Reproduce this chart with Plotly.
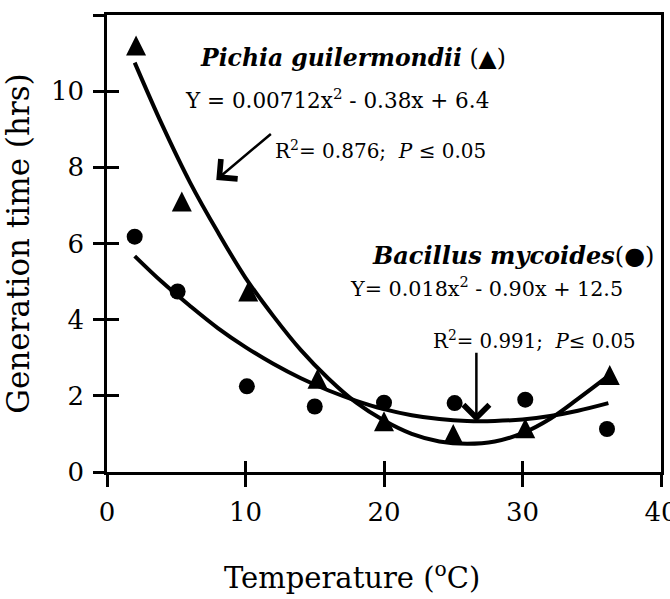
import plotly.graph_objects as go

pichia_x = [2.1, 5.4, 10.2, 15.2, 20.0, 25.0, 30.2, 36.3]
pichia_y = [11.2, 7.1, 4.74, 2.45, 1.33, 1.0, 1.15, 2.55]
bacillus_x = [2.0, 5.1, 10.1, 15.0, 20.0, 25.1, 30.2, 36.1]
bacillus_y = [6.18, 4.74, 2.25, 1.72, 1.82, 1.81, 1.90, 1.13]

# Fitted curves
steep_x = [2, 4, 6, 8, 10, 12, 14, 16, 18, 20, 22, 24, 26, 28, 30, 32, 34, 36.3]
steep_y = [10.75, 9.1, 7.6, 6.3, 5.1, 4.1, 3.2, 2.45, 1.82, 1.35, 1.0, 0.8, 0.74, 0.8, 1.02, 1.4, 1.92, 2.55]
flat_x = [2, 4, 6, 8, 10, 12, 14, 16, 18, 20, 22, 24, 26, 28, 30, 32, 34, 36.2]
flat_y = [5.67, 4.98, 4.36, 3.78, 3.28, 2.84, 2.46, 2.14, 1.87, 1.65, 1.49, 1.39, 1.34, 1.34, 1.38, 1.47, 1.61, 1.81]

x_ticks = [0, 10, 20, 30, 40]
y_ticks = [0, 2, 4, 6, 8, 10, 12]
y_ticktext = ["0", "2", "4", "6", "8", "10", ""]

FONT = "DejaVu Serif"

fig = go.Figure()
fig.add_trace(go.Scatter(x=steep_x, y=steep_y, mode="lines", line=dict(color="black", width=4, shape="spline"),
                         showlegend=False, hoverinfo="skip"))
fig.add_trace(go.Scatter(x=flat_x, y=flat_y, mode="lines", line=dict(color="black", width=4, shape="spline"),
                         showlegend=False, hoverinfo="skip"))
fig.add_trace(go.Scatter(x=pichia_x, y=pichia_y, mode="markers", name="Pichia guilermondii",
                         marker=dict(symbol="arrow-down", angle=180, standoff=10, size=20, color="black"),
                         showlegend=False))
# circles drawn on the overlay axes (same ranges) so that the inside ticks are rendered
fig.add_trace(go.Scatter(x=bacillus_x, y=bacillus_y, mode="markers", name="Bacillus mycoides",
                         xaxis="x2", yaxis="y2",
                         marker=dict(symbol="circle", size=16, color="black"), showlegend=False))

tickfont = dict(family=FONT, size=26, color="black")
fig.update_layout(
    width=670, height=599,
    margin=dict(l=107, r=9, t=15, b=127),
    paper_bgcolor="white", plot_bgcolor="white",
    font=dict(family=FONT, color="black"),
    xaxis=dict(range=[0, 40], tickvals=x_ticks, ticks="outside", ticklen=12, tickwidth=2.5, tickcolor="black",
               showline=True, linewidth=2.5, linecolor="black", mirror=True, showgrid=False, zeroline=False,
               tickfont=tickfont, ticklabelstandoff=3, ticklabeloverflow="allow", automargin=False),
    yaxis=dict(range=[0, 12], tickvals=y_ticks, ticktext=y_ticktext, ticks="outside", ticklen=11, tickwidth=2.5,
               tickcolor="black", showline=True, linewidth=2.5, linecolor="black", mirror=True, showgrid=False,
               zeroline=False, tickfont=tickfont, ticklabelstandoff=4, ticklabeloverflow="allow", automargin=False,
               title=dict(text="Generation time (hrs)", font=dict(family=FONT, size=31), standoff=18)),
    xaxis2=dict(range=[0, 40], overlaying="x", anchor="y2", side="bottom", tickvals=x_ticks, ticks="inside",
                ticklen=11, tickwidth=2.5, tickcolor="black", showticklabels=False, showline=False,
                showgrid=False, zeroline=False),
    yaxis2=dict(range=[0, 12], overlaying="y", anchor="x2", side="left", tickvals=y_ticks, ticks="inside",
                ticklen=12, tickwidth=2.5, tickcolor="black", showticklabels=False, showline=False,
                showgrid=False, zeroline=False),
)

# x-axis title (offset to the left of the plot centre, as in the reference)
fig.add_annotation(xref="paper", yref="paper", x=0.442, y=-0.228, xanchor="center", yanchor="middle",
                   showarrow=False, text="Temperature (<sup>o</sup>C)",
                   font=dict(family=FONT, size=29, color="black"))

txt = dict(family=FONT, size=21.5, color="black")
bold = dict(family=FONT, size=23.5, color="black")
annots = [
    dict(x=17.77, y=10.87, text="<b><i>Pichia guilermondii</i></b> (▲)", font=bold),
    dict(x=16.58, y=9.80, text="Y = 0.00712x<sup>2</sup> - 0.38x + 6.4", font=txt),
    dict(x=19.76, y=8.46, text="R<sup>2</sup>= 0.876;  <i>P</i> ≤ 0.05", font=dict(family=FONT, size=20, color="black")),
    dict(x=29.29, y=5.68, text="<b><i>Bacillus mycoides</i></b>(●)", font=dict(family=FONT, size=24, color="black")),
    dict(x=27.4, y=4.84, text="Y= 0.018x<sup>2</sup> - 0.90x + 12.5", font=dict(family=FONT, size=20.7, color="black")),
    dict(x=30.89, y=3.47, text="R<sup>2</sup>= 0.991;  <i>P</i>≤ 0.05", font=dict(family=FONT, size=19.8, color="black")),
]
for a in annots:
    fig.add_annotation(xref="x", yref="y", showarrow=False, xanchor="center", yanchor="middle", **a)

# arrows
fig.add_annotation(xref="x", yref="y", axref="x", ayref="y", x=7.89, y=7.67, ax=11.94, ay=8.91, text="",
                   showarrow=True, arrowhead=4, arrowsize=2, arrowwidth=2.5, arrowcolor="black")
fig.add_annotation(xref="x", yref="y", axref="x", ayref="y", x=26.67, y=1.32, ax=26.67, ay=3.17, text="",
                   showarrow=True, arrowhead=4, arrowsize=2, arrowwidth=2.5, arrowcolor="black")

fig.write_html("out.html")
